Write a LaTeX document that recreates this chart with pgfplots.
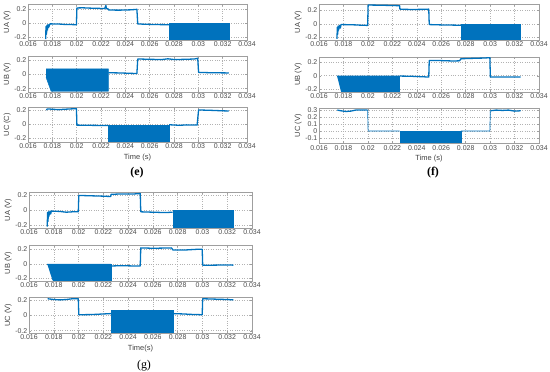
\documentclass[border=0pt]{standalone}
\usepackage{pgfplots}
\pgfplotsset{compat=1.18}
\usepackage{fontspec}
\setmainfont{Liberation Sans}
\newfontfamily\capfont{Liberation Serif}
\definecolor{mblue}{HTML}{0072BD}
\pgfplotsset{
  sub/.style={
    scale only axis, anchor=south west,
    xmin=0.016, xmax=0.034,
    xtick={0.016,0.018,0.020,0.022,0.024,0.026,0.028,0.030,0.032,0.034},
    xticklabels={0.016,0.018,0.02,0.022,0.024,0.026,0.028,0.03,0.032,0.034},
    scaled x ticks=false, scaled y ticks=false,
    grid=major, grid style={dotted, gray!60, line width=0.45bp},
    tick align=inside, major tick length=2bp,
    axis line style={gray!75, line width=0.5bp}, tick style={gray!75, line width=0.4bp},
    ticklabel style={font=\fontsize{7}{8}\selectfont, text=black!70},
    xticklabel style={inner sep=1.5bp},
    yticklabel style={inner sep=1.5bp},
    label style={font=\fontsize{7.5}{8.5}\selectfont, text=black!75},
    ylabel style={yshift=-1.5bp},
    xlabel style={yshift=0bp},
    clip=true,
  },
  lev/.style={mblue, line width=1.3bp, line join=round},
  blk/.style={fill=mblue, draw=mblue, line width=0.4bp},
}
\begin{document}
\begin{tikzpicture}
\useasboundingbox (0,0) rectangle (550bp,372bp);

% ================= (e) =================
\begin{axis}[sub, at={(28bp,332bp)}, width=219bp, height=36bp,
  ymin=-0.243, ymax=0.277, ytick={-0.2,0,0.2}, yticklabels={-0.2,0,0.2}, ylabel={UA (V)}]
\addplot[lev] coordinates {(0.01745,-0.23)(0.01748,-0.05)(0.01752,-0.16)(0.01756,-0.03)(0.0176,-0.10)(0.01765,-0.02)(0.0177,-0.06)(0.0178,-0.01)(0.0185,-0.012)(0.019,-0.018)(0.0195,-0.02)(0.01998,-0.022)(0.02002,0.22)(0.0205,0.222)(0.021,0.218)(0.0215,0.215)(0.022,0.213)(0.0223,0.21)(0.0224,0.255)(0.02245,0.21)(0.0226,0.205)(0.02262,0.19)(0.0235,0.188)(0.0245,0.193)(0.02495,0.2)(0.02502,-0.01)(0.0255,-0.015)(0.0265,-0.02)(0.0276,-0.022)};
\addplot[blk] coordinates {(0.0276,0)(0.0325,0)(0.0325,-0.235)(0.0276,-0.235)};
\end{axis}
\begin{axis}[sub, at={(28bp,280bp)}, width=219bp, height=36bp,
  ymin=-0.248, ymax=0.262, ytick={-0.2,0,0.2}, yticklabels={-0.2,0,0.2}, ylabel={UB (V)}]
\addplot[blk] coordinates {(0.01748,0.08)(0.0226,0.08)(0.0226,-0.238)(0.0179,-0.238)(0.01748,-0.04)};
\addplot[lev] coordinates {(0.0226,0.025)(0.0235,0.022)(0.0245,0.016)(0.02495,0.014)(0.02502,0.22)(0.026,0.215)(0.027,0.212)(0.0275,0.222)(0.028,0.212)(0.029,0.215)(0.0297,0.22)(0.02995,0.23)(0.03002,0.03)(0.031,0.025)(0.032,0.023)(0.0325,0.022)};
\end{axis}
\begin{axis}[sub, at={(28bp,230bp)}, width=219bp, height=34.5bp,
  ymin=-0.255, ymax=0.235, ytick={-0.2,0,0.2}, yticklabels={-0.2,0,0.2}, ylabel={UC (C)}, xlabel={Time (s)}]
\addplot[lev] coordinates {(0.0175,0.2)(0.0176,0.215)(0.0185,0.205)(0.019,0.21)(0.0195,0.215)(0.01998,0.218)(0.02002,-0.015)(0.021,-0.018)(0.022,-0.02)(0.0226,-0.02)};
\addplot[blk] coordinates {(0.0226,-0.02)(0.0276,-0.02)(0.0276,-0.245)(0.0226,-0.245)};
\addplot[lev] coordinates {(0.0276,-0.01)(0.0285,-0.018)(0.029,-0.012)(0.0299,-0.015)(0.03002,0.2)(0.031,0.195)(0.032,0.188)(0.0325,0.185)};
\end{axis}
\node[font=\capfont\bfseries\fontsize{12}{14}\selectfont] at (137bp,199bp) {(e)};

% ================= (f) =================
\begin{axis}[sub, at={(319bp,332bp)}, width=220bp, height=36bp,
  ymin=-0.235, ymax=0.29, ytick={-0.2,0,0.2}, yticklabels={-0.2,0,0.2}, ylabel={UA (V)}]
\addplot[lev] coordinates {(0.01747,-0.22)(0.0175,-0.05)(0.01753,-0.15)(0.01757,-0.03)(0.0176,-0.09)(0.0177,-0.02)(0.01775,-0.06)(0.0178,-0.01)(0.0185,-0.012)(0.019,-0.015)(0.0195,-0.02)(0.01998,-0.022)(0.02002,0.275)(0.021,0.272)(0.022,0.268)(0.0226,0.265)(0.02262,0.215)(0.0235,0.21)(0.0245,0.212)(0.02498,0.215)(0.02502,-0.01)(0.026,-0.015)(0.027,-0.018)(0.0276,-0.02)};
\addplot[blk] coordinates {(0.0276,0)(0.0325,0)(0.0325,-0.225)(0.0276,-0.225)};
\end{axis}
\begin{axis}[sub, at={(319bp,280bp)}, width=220bp, height=35bp,
  ymin=-0.235, ymax=0.27, ytick={-0.2,0,0.2}, yticklabels={-0.2,0,0.2}, ylabel={UB (V)}]
\addplot[blk] coordinates {(0.01747,0)(0.0226,0)(0.0226,-0.228)(0.0178,-0.228)};
\addplot[lev] coordinates {(0.0226,-0.005)(0.0235,-0.008)(0.0245,-0.015)(0.02498,-0.02)(0.02502,0.22)(0.026,0.218)(0.027,0.212)(0.0275,0.215)(0.02762,0.245)(0.0285,0.25)(0.0295,0.255)(0.02998,0.26)(0.03002,-0.02)(0.031,-0.02)(0.032,-0.018)(0.0325,-0.02)};
\end{axis}
\begin{axis}[sub, at={(319bp,228.5bp)}, width=220bp, height=35.5bp,
  ymin=-0.18, ymax=0.33, ytick={-0.1,0,0.1,0.2,0.3}, yticklabels={-0.1,0,0.1,0.2,0.3}, ylabel={UC (V)}, xlabel={Time (s)}]
\addplot[lev] coordinates {(0.0175,0.3)(0.0178,0.29)(0.0182,0.28)(0.0186,0.285)(0.019,0.3)(0.0195,0.3)(0.01998,0.3)};
\addplot[mblue, line width=0.7bp] coordinates {(0.01998,0.3)(0.02002,0)(0.0226,0)};
\addplot[blk] coordinates {(0.0226,0)(0.0276,0)(0.0276,-0.165)(0.0226,-0.165)};
\addplot[mblue, line width=0.7bp] coordinates {(0.0276,0)(0.02998,0)(0.03002,0.29)};
\addplot[lev] coordinates {(0.03002,0.29)(0.0305,0.3)(0.031,0.295)(0.0315,0.3)(0.032,0.285)(0.0325,0.29)};
\end{axis}
\node[font=\capfont\bfseries\fontsize{12}{14}\selectfont] at (433bp,199bp) {(f)};

% ================= (g) =================
\begin{axis}[sub, at={(29bp,144bp)}, width=223bp, height=36bp,
  ymin=-0.237, ymax=0.246, ytick={-0.2,0,0.2}, yticklabels={-0.2,0,0.2}, ylabel={UA (V)}]
\addplot[lev] coordinates {(0.01747,-0.22)(0.0175,-0.03)(0.01753,-0.15)(0.01757,-0.02)(0.0176,-0.08)(0.0177,-0.01)(0.01775,-0.05)(0.0178,-0.01)(0.0185,-0.015)(0.019,-0.025)(0.0195,-0.02)(0.01998,-0.02)(0.02002,0.2)(0.021,0.195)(0.022,0.19)(0.0226,0.185)(0.02262,0.215)(0.0235,0.22)(0.0245,0.22)(0.02498,0.225)(0.02502,-0.02)(0.026,-0.025)(0.027,-0.03)(0.0276,-0.025)};
\addplot[blk] coordinates {(0.0276,0)(0.0325,0)(0.0325,-0.225)(0.0276,-0.225)};
\end{axis}
\begin{axis}[sub, at={(29bp,91bp)}, width=223bp, height=36bp,
  ymin=-0.237, ymax=0.26, ytick={-0.2,0,0.2}, yticklabels={-0.2,0,0.2}, ylabel={UB (V)}]
\addplot[blk] coordinates {(0.01747,0)(0.0226,0)(0.0226,-0.23)(0.0179,-0.23)};
\addplot[lev] coordinates {(0.0226,-0.03)(0.0235,-0.025)(0.0245,-0.03)(0.02498,-0.03)(0.02502,0.22)(0.026,0.215)(0.027,0.218)(0.0275,0.22)(0.02762,0.19)(0.0285,0.19)(0.0295,0.2)(0.02998,0.2)(0.03002,-0.02)(0.031,-0.018)(0.032,-0.015)(0.0325,-0.018)};
\end{axis}
\begin{axis}[sub, at={(29bp,39bp)}, width=223bp, height=36bp,
  ymin=-0.23, ymax=0.243, ytick={-0.2,0,0.2}, yticklabels={-0.2,0,0.2}, ylabel={UC (V)}, xlabel={Time(s)}]
\addplot[lev] coordinates {(0.0175,0.22)(0.018,0.21)(0.0185,0.205)(0.019,0.21)(0.0195,0.22)(0.01998,0.22)(0.02002,0.01)(0.021,0.012)(0.022,0.02)(0.0226,0.025)};
\addplot[blk] coordinates {(0.0226,0.075)(0.0276,0.075)(0.0276,-0.225)(0.0226,-0.225)};
\addplot[lev] coordinates {(0.0276,0.025)(0.0285,0.02)(0.029,0.015)(0.02998,0.01)(0.03002,0.22)(0.031,0.215)(0.032,0.21)(0.0325,0.205)};
\end{axis}
\node[font=\capfont\fontsize{12}{14}\selectfont] at (144bp,6bp) {(g)};
\end{tikzpicture}
\end{document}
